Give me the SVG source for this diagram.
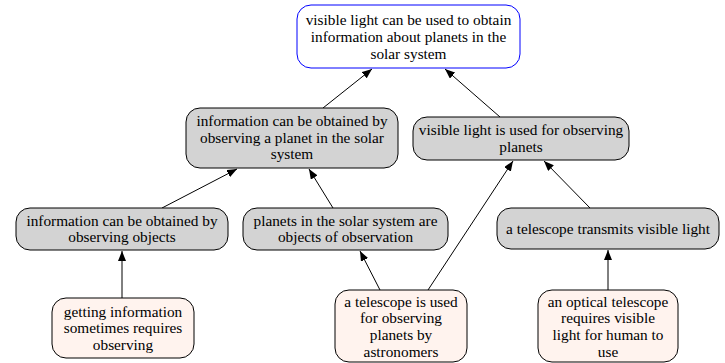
<svg xmlns="http://www.w3.org/2000/svg" width="725" height="363" viewBox="0 0 725 363">
<defs>
<style>
.n rect{stroke:#000;stroke-width:1}
.g rect{fill:#d3d3d3}
.p rect{fill:#fff3ee}
.t rect{fill:#fff;stroke:#0000ff}
text{font-family:"Liberation Serif","Times New Roman",serif;font-size:15.3px;fill:#000;text-anchor:middle}
#edges line{stroke:#000;stroke-width:1;marker-end:url(#ah)}
</style>
<marker id="ah" viewBox="0 0 10 8" refX="10" refY="4" markerWidth="10" markerHeight="8" markerUnits="userSpaceOnUse" orient="auto">
<path d="M0,0 L10,4 L0,8 Z" fill="#000"/>
</marker>
</defs>
<rect width="725" height="363" fill="#fff"/>
<g id="edges">
<line x1="122" y1="298" x2="122" y2="251"/>
<line x1="380" y1="290" x2="360" y2="251"/>
<line x1="428" y1="290" x2="513" y2="161"/>
<line x1="608" y1="290" x2="608" y2="250"/>
<line x1="590" y1="208" x2="544" y2="161"/>
<line x1="162" y1="208" x2="237" y2="169"/>
<line x1="333" y1="208" x2="309" y2="169"/>
<line x1="323" y1="108" x2="372" y2="69"/>
<line x1="500" y1="117" x2="445" y2="69"/>
</g>
<g id="n0" class="n t">
<rect x="297" y="5" width="223" height="63" rx="14"/>
<text x="408.5" y="24.5">visible light can be used to obtain</text>
<text x="408.5" y="41.5">information about planets in the</text>
<text x="408.5" y="58.5">solar system</text>
</g>
<g id="n1" class="n g">
<rect x="186" y="108" width="212" height="60" rx="14"/>
<text x="292" y="126">information can be obtained by</text>
<text x="292" y="142.5">observing a planet in the solar</text>
<text x="292" y="159">system</text>
</g>
<g id="n2" class="n g">
<rect x="413" y="117" width="216" height="43" rx="14"/>
<text x="521" y="135">visible light is used for observing</text>
<text x="521" y="151.5">planets</text>
</g>
<g id="n3" class="n g">
<rect x="16" y="208" width="212" height="42" rx="14"/>
<text x="122" y="225.5">information can be obtained by</text>
<text x="122" y="242">observing objects</text>
</g>
<g id="n4" class="n g">
<rect x="243" y="208" width="205" height="42" rx="14"/>
<text x="345.5" y="225.5">planets in the solar system are</text>
<text x="345.5" y="242">objects of observation</text>
</g>
<g id="n5" class="n g">
<rect x="497" y="208" width="222" height="41" rx="14"/>
<text x="608" y="233.5">a telescope transmits visible light</text>
</g>
<g id="n6" class="n p">
<rect x="52" y="298" width="142" height="60" rx="14"/>
<text x="123" y="316.5">getting information</text>
<text x="123" y="333">sometimes requires</text>
<text x="123" y="349.5">observing</text>
</g>
<g id="n7" class="n p">
<rect x="335" y="290" width="132" height="72" rx="14"/>
<text x="401" y="306.5">a telescope is used</text>
<text x="401" y="323">for observing</text>
<text x="401" y="340">planets by</text>
<text x="401" y="356.5">astronomers</text>
</g>
<g id="n8" class="n p">
<rect x="538" y="290" width="140" height="72" rx="14"/>
<text x="608" y="306.5">an optical telescope</text>
<text x="608" y="323">requires visible</text>
<text x="608" y="340">light for human to</text>
<text x="608" y="356.5">use</text>
</g>
</svg>
